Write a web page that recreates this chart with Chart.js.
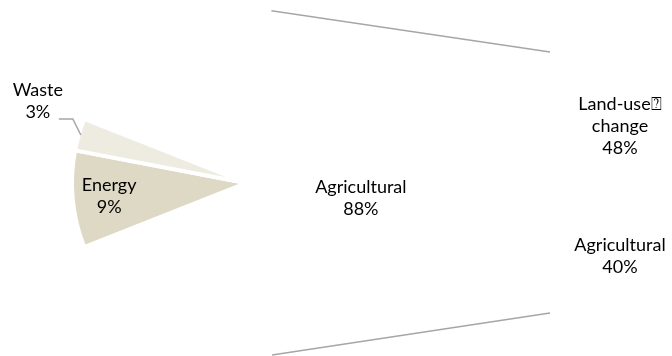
<!DOCTYPE html>
<html>
<head>
<meta charset="utf-8">
<script src="https://cdn.jsdelivr.net/npm/chart.js@4.4.1/dist/chart.umd.min.js"></script>
<style>
  body { margin: 0; background: #fff; overflow: hidden; }
  #wrap { position: relative; width: 700px; height: 356px; }
  #wrap canvas { position: absolute; left: 0; top: 0; }
</style>
</head>
<body>
<div id="wrap">
  <canvas id="pieChart" width="700" height="356"></canvas>
  <canvas id="barChart" width="700" height="356"></canvas>
</div>
<script>
// pie: emission sources, the first slice is split out into the bar
var pieLabels = ["Agricultural", "Energy", "Waste"];
var pieValues = [88, 9, 3];
var pieColors = ["#ffffff", "#ddd9c4", "#eeece1"];

// bar: breakdown of the split slice (bottom to top)
var barLabels = ["Agricultural", "Land-use\u2370\nchange"];
var barValues = [40, 48];

var labelFont = "18px Lato, 'DejaVu Sans', sans-serif";
var lineGap = 22;

var pieTotal = pieValues.reduce(function (a, b) { return a + b; }, 0);
var barTotal = barValues.reduce(function (a, b) { return a + b; }, 0);

function pct(v, total) {
  return Math.round((v / total) * 100) + "%";
}

function drawLines(ctx, lines, x, y) {
  var top = y - ((lines.length - 1) * lineGap) / 2;
  lines.forEach(function (line, i) {
    ctx.fillText(line, x, top + i * lineGap);
  });
}

// where each pie label sits: fraction of radius along the slice middle
var pieLabelPlace = [
  { r: 0.66, dy: 15 },
  { r: 0.79, dy: 0 },
  { outside: true }
];

var pieLabelPlugin = {
  id: "pieLabels",
  afterDatasetsDraw: function (chart) {
    var ctx = chart.ctx;
    var arcs = chart.getDatasetMeta(0).data;
    ctx.save();
    ctx.font = labelFont;
    ctx.fillStyle = "#000";
    ctx.textAlign = "center";
    ctx.textBaseline = "middle";
    arcs.forEach(function (arc, i) {
      var p = arc.getProps(["x", "y", "startAngle", "endAngle", "outerRadius"]);
      var mid = (p.startAngle + p.endAngle) / 2;
      var lines = [pieLabels[i], pct(pieValues[i], pieTotal)];
      var place = pieLabelPlace[i];
      if (place.outside) {
        // leader line from slice edge, elbow, then across to the text
        var ex = p.x + Math.cos(mid) * (p.outerRadius - 2);
        var ey = p.y + Math.sin(mid) * (p.outerRadius - 2);
        var kx = ex - 8;
        var ky = ey - 16;
        ctx.strokeStyle = "#a6a6a6";
        ctx.lineWidth = 1.5;
        ctx.beginPath();
        ctx.moveTo(ex, ey);
        ctx.lineTo(kx, ky);
        ctx.lineTo(kx - 14, ky);
        ctx.stroke();
        drawLines(ctx, lines, kx - 35, ky - 18);
      } else {
        var rr = p.outerRadius * place.r;
        drawLines(ctx, lines, p.x + Math.cos(mid) * rr, p.y + Math.sin(mid) * rr + place.dy);
      }
    });
    ctx.restore();
  }
};

var pieChart = new Chart(document.getElementById("pieChart"), {
  type: "pie",
  data: {
    labels: pieLabels,
    datasets: [{
      data: pieValues,
      backgroundColor: pieColors,
      borderColor: "#ffffff",
      borderWidth: 4
    }]
  },
  options: {
    responsive: false,
    animation: false,
    rotation: 90 - (pieValues[0] / pieTotal) * 180,
    radius: 174,
    layout: { padding: { left: 0, right: 208, top: 10, bottom: 0 } },
    plugins: { legend: { display: false }, tooltip: { enabled: false } }
  },
  plugins: [pieLabelPlugin]
});

// connector lines from the pie tangents to the bar corners
var connectorPlugin = {
  id: "connectors",
  afterDatasetsDraw: function (chart) {
    var ctx = chart.ctx;
    var arc = pieChart.getDatasetMeta(0).data[0];
    var c = arc.getProps(["x", "y", "outerRadius"]);
    var bottomBar = chart.getDatasetMeta(0).data[0].getProps(["x", "y", "base", "width"]);
    var topBar = chart.getDatasetMeta(chart.data.datasets.length - 1).data[0].getProps(["x", "y", "base", "width"]);
    var corners = [
      { x: topBar.x - topBar.width / 2, y: topBar.y, side: -1 },
      { x: bottomBar.x - bottomBar.width / 2, y: bottomBar.base, side: 1 }
    ];
    ctx.save();
    ctx.strokeStyle = "#a6a6a6";
    ctx.lineWidth = 1.5;
    corners.forEach(function (pt) {
      var dx = pt.x - c.x;
      var dy = pt.y - c.y;
      var d = Math.sqrt(dx * dx + dy * dy);
      var a = Math.atan2(dy, dx) + pt.side * Math.acos(c.outerRadius / d);
      ctx.beginPath();
      ctx.moveTo(c.x + Math.cos(a) * c.outerRadius, c.y + Math.sin(a) * c.outerRadius);
      ctx.lineTo(pt.x, pt.y);
      ctx.stroke();
    });
    ctx.restore();
  }
};

var barLabelPlugin = {
  id: "barLabels",
  afterDatasetsDraw: function (chart) {
    var ctx = chart.ctx;
    ctx.save();
    ctx.font = labelFont;
    ctx.fillStyle = "#000";
    ctx.textAlign = "center";
    ctx.textBaseline = "middle";
    chart.data.datasets.forEach(function (ds, i) {
      var bar = chart.getDatasetMeta(i).data[0].getProps(["x", "y", "base"]);
      var lines = barLabels[i].split("\n");
      lines.push(pct(barValues[i], pieTotal));
      drawLines(ctx, lines, bar.x + 2, (bar.y + bar.base) / 2 + 3);
    });
    ctx.restore();
  }
};

var barChart = new Chart(document.getElementById("barChart"), {
  type: "bar",
  data: {
    labels: [""],
    datasets: barValues.map(function (v, i) {
      return {
        label: barLabels[i],
        data: [v],
        backgroundColor: "#ffffff",
        borderWidth: 0,
        barPercentage: 1,
        categoryPercentage: 1
      };
    })
  },
  options: {
    responsive: false,
    animation: false,
    layout: { padding: { left: 550, right: 14, top: 52, bottom: 43 } },
    scales: {
      x: { stacked: true, display: false },
      y: { stacked: true, display: false, min: 0, max: barTotal }
    },
    plugins: { legend: { display: false }, tooltip: { enabled: false } }
  },
  plugins: [connectorPlugin, barLabelPlugin]
});
</script>
</body>
</html>
